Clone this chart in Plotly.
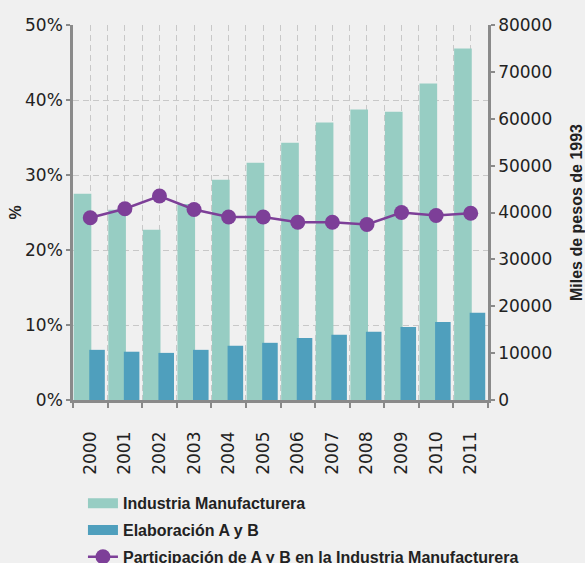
import plotly.graph_objects as go

# Series values
years = [2000, 2001, 2002, 2003, 2004, 2005, 2006, 2007, 2008, 2009, 2010, 2011]
industria = [44000, 40600, 36300, 41800, 47000, 50600, 54900, 59200, 62000, 61500, 67500, 75000]
elaboracion = [10700, 10300, 10050, 10700, 11550, 12200, 13250, 13900, 14550, 15600, 16650, 18600]
participacion = [0.243, 0.255, 0.272, 0.254, 0.244, 0.244, 0.237, 0.237, 0.234, 0.250, 0.246, 0.249]

year_labels = [str(y) for y in years]
boundaries = [y - 0.5 for y in years] + [years[-1] + 0.5]

TEAL = "#97cdc3"
BLUE = "#4f9fbd"
PURPLE = "#7d3f98"
AXIS = "#8a8a8a"
GRID = "#c8c8c8"
TEXT = "#222222"
TICK_FONT = dict(family="DejaVu Sans", size=17, color=TEXT)
BOLD = dict(family="Liberation Sans, Arial", size=16, color=TEXT, weight="bold")

fig = go.Figure()

# Bars (legend entries drawn as wide swatches below)
fig.add_trace(go.Bar(
    x=years, y=industria, name="Industria Manufacturera", showlegend=False,
    marker=dict(color=TEAL, line=dict(width=0)),
    offset=-0.48, width=0.51, yaxis="y",
))
fig.add_trace(go.Bar(
    x=years, y=elaboracion, name="Elaboración A y B", showlegend=False,
    marker=dict(color=BLUE, line=dict(width=0)),
    offset=-0.03, width=0.45, yaxis="y",
))

# Legend swatches for the two bar series
for name, color in [("Industria Manufacturera", TEAL), ("Elaboración A y B", BLUE)]:
    fig.add_trace(go.Scatter(
        x=[None], y=[None], name=name, mode="lines", legendgroup=name,
        line=dict(color=color, width=10), yaxis="y", hoverinfo="skip",
    ))

fig.add_trace(go.Scatter(
    x=years, y=participacion, name="Participación de A y B en la Industria Manufacturera",
    legendgroup="part", mode="lines+markers", yaxis="y2",
    line=dict(color=PURPLE, width=2.5),
    marker=dict(color=PURPLE, size=15),
))

fig.update_layout(
    width=585, height=563,
    margin=dict(l=73, r=97, t=25, b=163, autoexpand=False),
    paper_bgcolor="#f0f0f0", plot_bgcolor="#f0f0f0",
    barmode="overlay",
    showlegend=True,
    legend=dict(
        orientation="v", x=0.024, xanchor="left", y=-0.23, yanchor="top",
        font=BOLD, itemwidth=30, tracegroupgap=3, bgcolor="rgba(0,0,0,0)",
        traceorder="grouped",
    ),
    xaxis=dict(
        range=[years[0] - 0.5, years[-1] + 0.5],
        tickmode="array", tickvals=years, ticktext=year_labels,
        tickangle=-90, tickfont=TICK_FONT, ticks="", ticklabelstandoff=22,
        showgrid=True, gridcolor=GRID, griddash="6px,4px", gridwidth=1.2,
        showline=True, linecolor=AXIS, linewidth=2.5,
        minor=dict(
            tickmode="array", tickvals=boundaries,
            ticks="outside", ticklen=5, tickwidth=2, tickcolor=AXIS,
            showgrid=True, gridcolor=GRID, griddash="6px,4px", gridwidth=1.2,
        ),
        zeroline=False, automargin=False,
    ),
    yaxis=dict(
        side="right", range=[0, 80000], dtick=10000, tickformat="d",
        tickfont=TICK_FONT, ticks="outside", ticklen=4, tickwidth=2, tickcolor=AXIS,
        showline=True, linecolor=AXIS, linewidth=2.5,
        showgrid=False, zeroline=False, automargin=False,
        title=dict(text="Miles de pesos de 1993", font=BOLD, standoff=22),
    ),
    yaxis2=dict(
        overlaying="y", side="left", range=[0, 0.5], dtick=0.1, tickformat=".0%",
        tickfont=TICK_FONT, ticks="outside", ticklen=4, tickwidth=2, tickcolor=AXIS,
        showline=True, linecolor=AXIS, linewidth=2.5,
        showgrid=True, gridcolor=GRID, griddash="6px,4px", gridwidth=1.2,
        zeroline=False, automargin=False,
        title=dict(text="%", font=BOLD, standoff=0),
    ),
)

fig.write_html("out.html")
